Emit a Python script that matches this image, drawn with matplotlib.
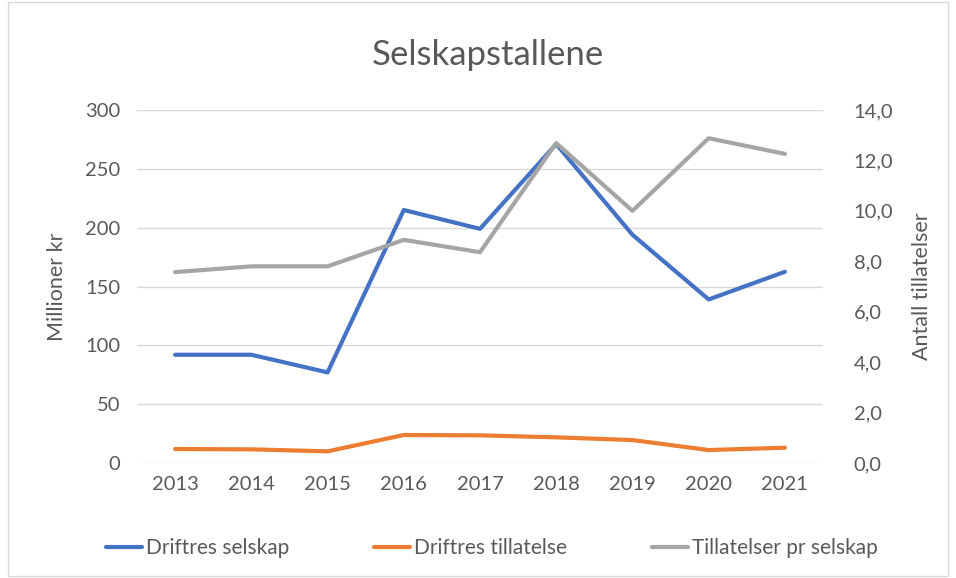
import matplotlib
matplotlib.use("Agg")
import matplotlib.pyplot as plt
from matplotlib.patches import Rectangle

years = ["2013", "2014", "2015", "2016", "2017", "2018", "2019", "2020", "2021"]
driftres_selskap = [92, 92, 77, 215, 199, 271, 194, 139, 162.5]
driftres_tillatelse = [11.9, 11.6, 9.9, 23.8, 23.5, 21.8, 19.5, 11, 13]
tillatelser_pr_selskap = [7.57, 7.8, 7.8, 8.85, 8.36, 12.69, 10.0, 12.88, 12.26]

left_ticks = [0, 50, 100, 150, 200, 250, 300]
right_ticks = [0, 2, 4, 6, 8, 10, 12, 14]
right_labels = ["0,0", "2,0", "4,0", "6,0", "8,0", "10,0", "12,0", "14,0"]

plt.rcParams['font.family'] = ['Lato', 'DejaVu Sans']
txt = "#595959"

fig = plt.figure(figsize=(9.56, 5.78), dpi=100)
ax = fig.add_axes([137/956, 1-463/578, 686/956, 353/578])
ax2 = ax.twinx()

x = list(range(len(years)))
l1, = ax.plot(x, driftres_selskap, color="#4472C4", lw=3, solid_capstyle="round", solid_joinstyle="round", label="Driftres selskap", zorder=3)
l2, = ax.plot(x, driftres_tillatelse, color="#ED7D31", lw=3, solid_capstyle="round", solid_joinstyle="round", label="Driftres tillatelse", zorder=3)
l3, = ax2.plot(x, tillatelser_pr_selskap, color="#A5A5A5", lw=3, solid_capstyle="round", solid_joinstyle="round", label="Tillatelser pr selskap", zorder=3)

ax.set_xlim(-0.5, len(years)-0.5)
ax.set_ylim(0, 300)
ax2.set_ylim(0, 14)
ax.set_yticks(left_ticks)
ax.set_yticklabels([str(t) for t in left_ticks])
ax2.set_yticks(right_ticks)
ax2.set_yticklabels(right_labels)
ax.set_xticks(x)
ax.set_xticklabels(years)

ax.grid(axis="y", color="#D9D9D9", lw=1)
ax.set_axisbelow(True)
for a in (ax, ax2):
    for s in a.spines.values():
        s.set_visible(False)
    a.tick_params(length=0, labelsize=14.5, colors=txt)
ax.tick_params(axis="y", pad=12)
ax2.tick_params(axis="y", pad=22)
ax.tick_params(axis="x", pad=9)

ax.set_ylabel("Millioner kr", fontsize=15.5, color=txt)
ax2.set_ylabel("Antall tillatelser", fontsize=15.5, color=txt)
ax.yaxis.set_label_coords((67-137)/686, 0.5)
ax2.yaxis.set_label_coords((912-137)/686, 0.5)

fig.text(488/956, 1-55/578, "Selskapstallene", fontsize=25, color=txt, ha="center", va="center")

fig.legend(handles=[l1, l2, l3], loc="center", bbox_to_anchor=(492/956, 1-548/578),
           ncol=3, frameon=False, fontsize=15, labelcolor=txt, handlelength=1.7,
           columnspacing=4.1, handletextpad=0.2)

fig.add_artist(Rectangle((8/956, 2/578), 940/956, 574/578, transform=fig.transFigure,
                         fill=False, edgecolor="#D9D9D9", lw=1))

fig.savefig("out.png", dpi=100)
